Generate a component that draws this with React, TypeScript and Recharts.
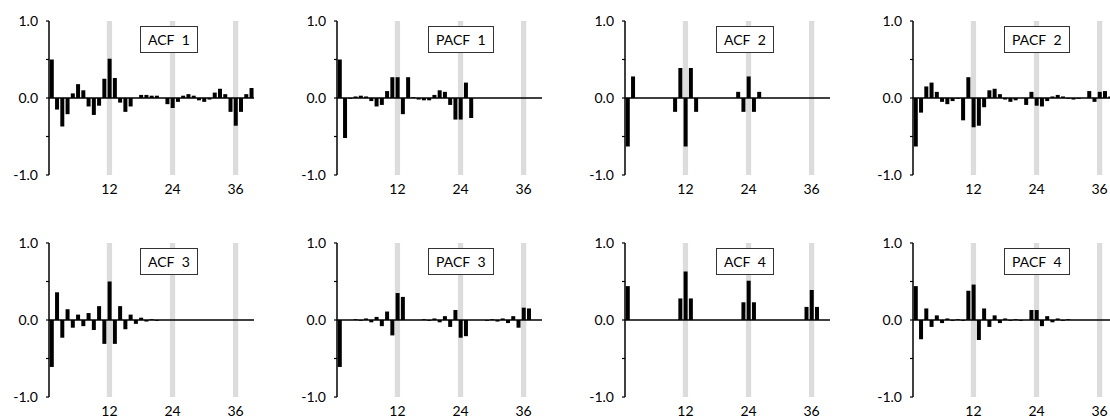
import { Bar, BarChart, ReferenceArea, ReferenceLine, XAxis, YAxis } from "recharts";

const lags = [
  1, 2, 3, 4, 5, 6, 7, 8, 9, 10, 11, 12, 13, 14, 15, 16, 17, 18, 19, 20,
  21, 22, 23, 24, 25, 26, 27, 28, 29, 30, 31, 32, 33, 34, 35, 36, 37, 38, 39,
];
const seasonalLags = [12, 24, 36];
const xTickLabels = ["12", "24", "36"];
const yTicks = [-1, -0.5, 0, 0.5, 1];
const yTickLabels = ["-1.0", "", "0.0", "", "1.0"];

const acf1 = [
  0.5, -0.15, -0.37, -0.21, 0.06, 0.18, 0.1, -0.11, -0.22, -0.1, 0.25, 0.51, 0.26,
  -0.06, -0.18, -0.11, 0.0, 0.04, 0.04, 0.03, 0.03, 0.0, -0.08, -0.13, -0.05, 0.03,
  0.05, 0.03, -0.03, -0.05, -0.02, 0.07, 0.12, 0.05, -0.18, -0.36, -0.18, 0.05, 0.13,
];
const pacf1 = [
  0.5, -0.52, -0.01, 0.02, 0.03, 0.02, -0.04, -0.11, -0.09, 0.09, 0.27, 0.27, -0.21,
  0.27, 0.01, -0.02, -0.03, -0.03, 0.04, 0.1, 0.08, -0.09, -0.28, -0.28, 0.2, -0.26,
  0, 0, 0, 0, 0, 0, 0, 0, 0, 0, 0, 0, 0,
];
const acf2 = [
  -0.63, 0.28, 0, 0, 0, 0, 0, 0, 0, -0.18, 0.39, -0.63, 0.39,
  -0.18, 0, 0, 0, 0, 0, 0, 0, 0.08, -0.18, 0.28, -0.18, 0.08,
  0, 0, 0, 0, 0, 0, 0, 0, 0, 0, 0, 0, 0,
];
const pacf2 = [
  -0.63, -0.19, 0.15, 0.2, 0.08, -0.05, -0.08, -0.04, -0.01, -0.29, 0.27, -0.38, -0.36,
  -0.12, 0.1, 0.12, 0.05, -0.02, -0.05, -0.03, 0.0, -0.09, 0.08, -0.1, -0.11, -0.04,
  0.02, 0.04, 0.02, -0.01, -0.02, -0.01, 0.0, 0.09, -0.05, 0.08, 0.09, 0.02, 0.03,
];
const acf3 = [
  -0.61, 0.36, -0.23, 0.14, -0.1, 0.07, -0.08, 0.09, -0.13, 0.18, -0.31, 0.5, -0.31,
  0.18, -0.12, 0.07, -0.05, 0.03, -0.02, 0.01, -0.01, 0, 0, 0, 0, 0,
  0, 0, 0, 0, 0, 0, 0, 0, 0, 0, 0, 0, 0,
];
const pacf3 = [
  -0.61, 0, 0, 0.01, -0.01, 0.02, -0.03, 0.04, -0.08, 0.11, -0.2, 0.35, 0.3,
  0, 0, 0, 0.01, -0.01, 0.02, -0.03, 0.05, -0.09, 0.13, -0.23, -0.21, 0,
  0, 0, -0.01, 0.01, -0.02, 0.02, -0.04, 0.05, -0.1, 0.16, 0.15, 0, 0,
];
const acf4 = [
  0.44, 0, 0, 0, 0, 0, 0, 0, 0, 0, 0.28, 0.63, 0.28,
  0, 0, 0, 0, 0, 0, 0, 0, 0, 0.23, 0.51, 0.23, 0,
  0, 0, 0, 0, 0, 0, 0, 0, 0.17, 0.39, 0.17, 0, 0,
];
const pacf4 = [
  0.44, -0.25, 0.15, -0.09, 0.06, -0.04, 0.02, -0.01, 0.01, -0.01, 0.38, 0.46, -0.26,
  0.15, -0.09, 0.06, -0.04, 0.02, -0.01, 0.01, -0.01, 0.0, 0.13, 0.13, -0.08, 0.05,
  -0.03, 0.02, -0.01, 0.01, 0, 0, 0, 0, 0, 0, 0, 0, 0,
];

const titles = ["ACF 1", "PACF 1", "ACF 2", "PACF 2", "ACF 3", "PACF 3", "ACF 4", "PACF 4"];
const series = [acf1, pacf1, acf2, pacf2, acf3, pacf3, acf4, pacf4];

const FONT = "Lato, 'Open Sans', sans-serif";

function Panel({ title, values, left, top }: { title: string; values: number[]; left: number; top: number }) {
  const data = lags.map((lag, i) => ({ lag, value: values[i] }));
  return (
    <div style={{ position: "absolute", left, top, width: 260, height: 196 }}>
      <BarChart
        width={260}
        height={196}
        data={data}
        margin={{ top: 21, right: 6, bottom: 0, left: 0 }}
        barCategoryGap="15%"
      >
        <XAxis
          dataKey="lag"
          type="category"
          interval={0}
          axisLine={false}
          tickLine={false}
          tickSize={0}
          tickMargin={9}
          height={21}
          tick={{ fill: "#000", fontSize: 14, fontFamily: FONT }}
          tickFormatter={(v) => (seasonalLags.includes(Number(v)) ? xTickLabels[seasonalLags.indexOf(Number(v))] : "")}
        />
        <YAxis
          type="number"
          domain={[-1, 1]}
          ticks={yTicks}
          width={49}
          interval={0}
          tickSize={3}
          tickMargin={8}
          axisLine={{ stroke: "#000", strokeWidth: 1.5 }}
          tickLine={{ stroke: "#000", strokeWidth: 1.2 }}
          tick={{ fill: "#000", fontSize: 14, fontFamily: FONT }}
          tickFormatter={(v) => yTickLabels[yTicks.indexOf(Number(v))]}
        />
        {seasonalLags.map((lag) => (
          <ReferenceArea
            key={lag}
            x1={lag}
            x2={lag}
            y1={-1}
            y2={1}
            fill="#dcdcdc"
            fillOpacity={1}
            stroke="none"
          />
        ))}
        <Bar dataKey="value" fill="#000" isAnimationActive={false} />
        <ReferenceLine y={0} stroke="#000" strokeWidth={1.5} />
      </BarChart>
      <div
        style={{
          position: "absolute",
          left: 140,
          top: 26,
          height: 25,
          lineHeight: "25px",
          padding: "0 7px",
          border: "1px solid #333",
          background: "#fff",
          fontFamily: FONT,
          fontSize: 14,
          wordSpacing: 4,
          whiteSpace: "nowrap",
          color: "#000",
        }}
      >
        {title}
      </div>
    </div>
  );
}

export default function App() {
  return (
    <div
      style={{
        position: "absolute",
        left: 0,
        top: 0,
        width: 1110,
        height: 418,
        overflow: "hidden",
        background: "#fff",
      }}
    >
      {titles.map((title, i) => (
        <Panel
          key={title}
          title={title}
          values={series[i]}
          left={(i % 4) * 288}
          top={i < 4 ? 0 : 222}
        />
      ))}
    </div>
  );
}
